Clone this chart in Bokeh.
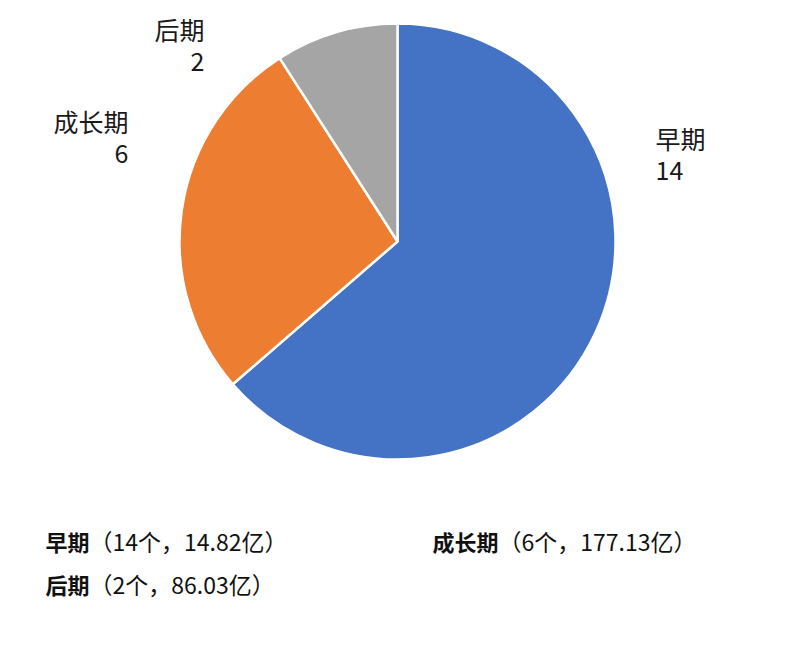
import math
from bokeh.plotting import figure
from bokeh.models import Range1d, ColumnDataSource
from bokeh.core.properties import value
from bokeh.embed import file_html
from bokeh.resources import INLINE

# ---- data ----
stages = ["早期", "成长期", "后期"]
counts = [14, 6, 2]
amounts = ["14.82", "177.13", "86.03"]
colors = ["#4472C4", "#ED7D31", "#A5A5A5"]

# ---- layout (screen pixel coordinates; y measured from the top) ----
W, H = 780, 652
CX, CY, R = 397, 241, 218
label_pos = {  # x, y of first line, alignment
    "早期": (655, 137, "left"),
    "成长期": (128, 120, "right"),
    "后期": (204, 28, "right"),
}
legend_pos = {"早期": (45, 540), "成长期": (432, 540), "后期": (45, 583)}
FONT = value("Noto Sans CJK SC")

def Y(py):
    return H - py

p = figure(width=W, height=H, output_backend="svg", toolbar_location=None,
           x_range=Range1d(0, W), y_range=Range1d(0, H),
           min_border=0, outline_line_color=None, background_fill_color="white")
p.axis.visible = False
p.grid.visible = False

total = sum(counts)
starts, ends = [], []
acc = 0
for c in counts:
    s = 90 - acc / total * 360
    e = 90 - (acc + c) / total * 360
    starts.append(math.radians(s))
    ends.append(math.radians(e))
    acc += c

src = ColumnDataSource(dict(x=[CX] * 3, y=[Y(CY)] * 3, start=starts, end=ends, color=colors))
p.wedge(x="x", y="y", radius=R, start_angle="start", end_angle="end", direction="clock",
        fill_color="color", line_color="white", line_width=2.5, source=src)

# data labels
for st, c in zip(stages, counts):
    lx, ly, al = label_pos[st]
    p.text(x=[lx, lx], y=[Y(ly), Y(ly + 33)], text=[st, str(c)], text_align=al,
           text_baseline="middle", text_font=FONT, text_font_size="25px", text_color="#1a1a1a")

# bottom notes
for st, c, a in zip(stages, counts, amounts):
    bx, by = legend_pos[st]
    p.text(x=[bx], y=[Y(by)], text=[st], text_align="left", text_baseline="middle",
           text_font=FONT, text_font_size="22px", text_font_style="bold", text_color="#111")
    p.text(x=[bx + 22 * len(st)], y=[Y(by)], text=[f"（{c}个，{a}亿）"], text_align="left",
           text_baseline="middle", text_font=FONT, text_font_size="23px", text_color="#111")

open("out.html", "w").write(file_html(p, INLINE))
